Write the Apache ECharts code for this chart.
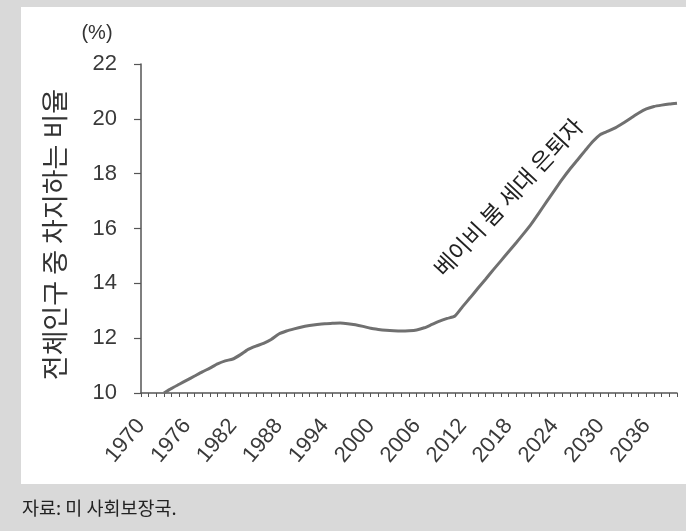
<!DOCTYPE html>
<html>
<head>
<meta charset="utf-8">
<script src="https://cdn.jsdelivr.net/npm/echarts/dist/echarts.min.js"></script>
<style>
html,body{margin:0;padding:0;background:#d9d9d9;width:686px;height:531px;overflow:hidden;}
#panel{position:absolute;left:21px;top:7px;width:665px;height:477px;background:#fff;}
#c{position:absolute;left:0;top:0;width:686px;height:531px;}
</style>
</head>
<body>
<div id="panel"></div>
<div id="c"></div>
<script>
// Categories (years)
const years = ['1970','1971','1972','1973','1974','1975','1976','1977','1978','1979',
  '1980','1981','1982','1983','1984','1985','1986','1987','1988','1989',
  '1990','1991','1992','1993','1994','1995','1996','1997','1998','1999',
  '2000','2001','2002','2003','2004','2005','2006','2007','2008','2009',
  '2010','2011','2012','2013','2014','2015','2016','2017','2018','2019',
  '2020','2021','2022','2023','2024','2025','2026','2027','2028','2029',
  '2030','2031','2032','2033','2034','2035','2036','2037','2038','2039','2040'];

// Share of total population (%)
const shareValues = [null, null, null,
  10.00, 10.17, 10.32, 10.47, 10.62, 10.77, 10.91,
  11.06, 11.17, 11.24, 11.40, 11.59, 11.71, 11.81, 11.95, 12.15, 12.26,
  12.34, 12.41, 12.46, 12.50, 12.53, 12.54, 12.55, 12.53, 12.49, 12.43,
  12.36, 12.32, 12.29, 12.27, 12.26, 12.27, 12.30, 12.38, 12.50, 12.62,
  12.72, 12.81, 13.15, 13.48, 13.82, 14.15, 14.49, 14.82, 15.15, 15.48,
  15.82, 16.18, 16.58, 16.99, 17.39, 17.79, 18.16, 18.50, 18.84, 19.17,
  19.43, 19.55, 19.68, 19.85, 20.03, 20.21, 20.36, 20.45, 20.50, 20.54, 20.57];

const yTicks = { min: 10, max: 22, step: 2 };

const unitLabel = '(%)';
const yAxisTitle = '전체인구 중 차지하는 비율';
const annotationText = '베이비 붐 세대 은퇴자';
const sourceText = '자료: 미 사회보장국.';

const FONT = "'Liberation Sans', 'Noto Sans CJK KR', sans-serif";
const KFONT = "'Noto Sans CJK KR', 'Liberation Sans', sans-serif";

const chart = echarts.init(document.getElementById('c'), null, { renderer: 'canvas' });
chart.setOption({
  backgroundColor: 'transparent',
  animation: false,
  grid: { left: 141, right: 9, top: 64, bottom: 138, containLabel: false },
  xAxis: {
    type: 'category',
    data: years,
    boundaryGap: false,
    axisLine: { lineStyle: { color: '#555', width: 1.5 } },
    axisTick: { show: true, interval: 0, length: 4, lineStyle: { color: '#555', width: 1 } },
    axisLabel: {
      interval: 5, rotate: 50, margin: 29, fontSize: 22, color: '#3a3a3a',
      fontFamily: FONT, hideOverlap: false
    },
    splitLine: { show: false }
  },
  yAxis: {
    type: 'value',
    min: yTicks.min, max: yTicks.max, interval: yTicks.step,
    axisLine: { show: true, lineStyle: { color: '#555', width: 1.5 } },
    axisTick: { show: true, length: 7, lineStyle: { color: '#555', width: 1.2 } },
    axisLabel: { fontSize: 22, color: '#3a3a3a', margin: 24, fontFamily: FONT },
    splitLine: { show: false },
    name: yAxisTitle,
    nameLocation: 'middle',
    nameRotate: 90,
    nameGap: 73,
    nameTextStyle: { fontSize: 27, color: '#333', fontFamily: KFONT, padding: [0, 12, 0, 0] }
  },
  series: [{
    type: 'line',
    data: shareValues,
    smooth: 0.2,
    symbol: 'none',
    connectNulls: false,
    lineStyle: { color: '#707070', width: 3 }
  }],
  graphic: [
    { type: 'text', x: 97, y: 33,
      style: { text: unitLabel, fontSize: 20, fill: '#333', fontFamily: FONT, align: 'center', verticalAlign: 'middle' } },
    { type: 'text', x: 508, y: 197, rotation: 47 * Math.PI / 180,
      style: { text: annotationText, fontSize: 23, fill: '#222', fontFamily: KFONT, align: 'center', verticalAlign: 'middle' } },
    { type: 'text', x: 22, y: 508,
      style: { text: sourceText, fontSize: 18.5, fill: '#222', fontFamily: KFONT, align: 'left', verticalAlign: 'middle' } }
  ]
});
</script>
</body>
</html>
